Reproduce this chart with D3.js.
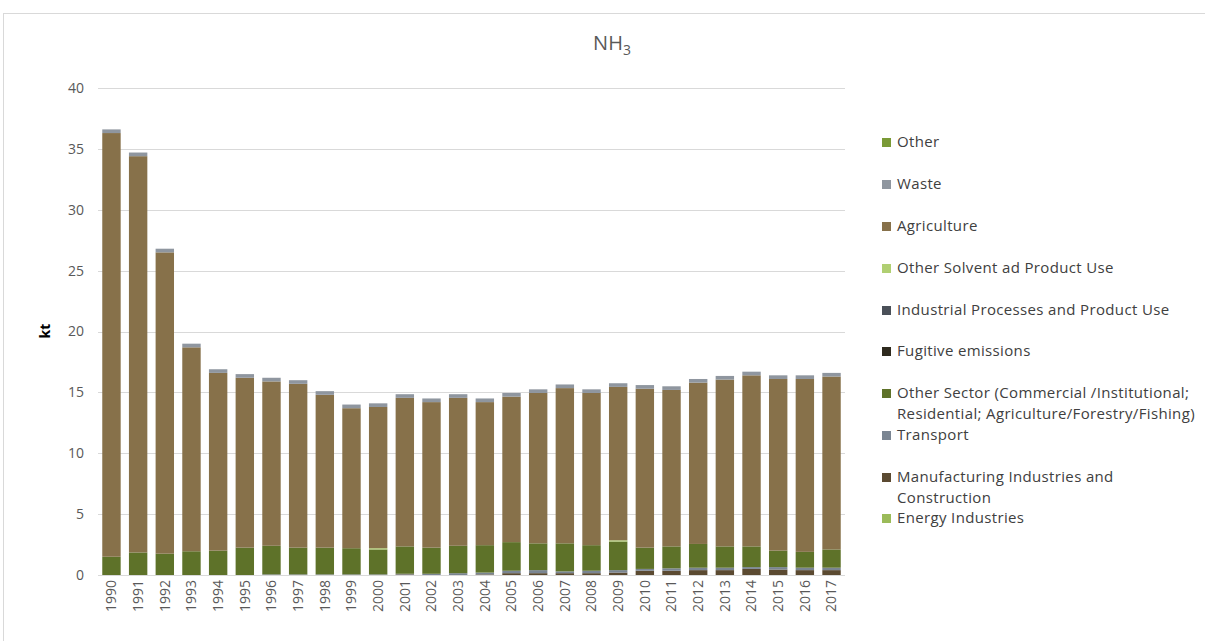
<!DOCTYPE html>
<html>
<head>
<meta charset="utf-8">
<script src="https://cdn.jsdelivr.net/npm/d3@7"></script>
<style>
  body { margin: 0; background: #fff; }
  svg { font-family: "Open Sans", sans-serif; }
</style>
</head>
<body>
<svg id="chart" width="1205" height="641"></svg>
<script>
// years on the x axis
let years = ["1990","1991","1992","1993","1994","1995","1996","1997","1998","1999",
             "2000","2001","2002","2003","2004","2005","2006","2007","2008","2009",
             "2010","2011","2012","2013","2014","2015","2016","2017"];

// sector values, kt
let energyIndustries = [0,0,0,0,0,0,0,0,0,0, 0,0,0,0,0,0,0,0,0,0, 0,0,0,0,0,0,0,0];
let manufacturing    = [0,0,0,0,0,0,0,0,0,0, 0,0.05,0,0,0.05,0.15,0.15,0.15,0.15,0.2, 0.35,0.35,0.4,0.4,0.5,0.45,0.4,0.4];
let transport        = [0,0,0,0,0,0,0.05,0.05,0.05,0.05, 0.05,0.05,0.1,0.15,0.15,0.2,0.25,0.15,0.2,0.2, 0.15,0.2,0.2,0.2,0.15,0.2,0.2,0.2];
let otherSector      = [1.5,1.85,1.75,1.95,2.0,2.25,2.35,2.2,2.2,2.15, 2.05,2.25,2.15,2.25,2.25,2.35,2.2,2.3,2.1,2.35, 1.75,1.8,1.95,1.75,1.7,1.35,1.3,1.5];
let fugitive         = [0,0,0,0,0,0,0,0,0,0, 0,0,0,0,0,0,0,0,0,0, 0,0,0,0,0,0,0,0];
let industrial       = [0,0,0,0,0,0,0,0,0,0, 0,0,0,0,0,0,0,0,0,0, 0,0,0,0,0,0,0,0];
let solvent          = [0,0,0,0,0,0,0,0,0,0, 0.1,0,0,0,0,0,0,0,0,0.1, 0,0,0,0,0,0,0,0];
let agriculture      = [34.8,32.55,24.75,16.75,14.6,13.95,13.5,13.45,12.55,11.5, 11.6,12.2,11.95,12.15,11.75,11.95,12.35,12.75,12.5,12.6, 13.05,12.85,13.25,13.7,14.05,14.1,14.2,14.2];
let waste            = [0.3,0.3,0.3,0.3,0.3,0.3,0.3,0.3,0.3,0.3, 0.3,0.3,0.3,0.3,0.3,0.3,0.3,0.3,0.3,0.3, 0.3,0.3,0.3,0.3,0.3,0.3,0.3,0.3];
let other            = [0,0,0,0,0,0,0,0,0,0, 0,0,0,0,0,0,0,0,0,0, 0,0,0,0,0,0,0,0];

let yTicks = [0,5,10,15,20,25,30,35,40];

// stack order, bottom to top
let series = [
  {key:"energy",   name:"Energy Industries", values:energyIndustries, color:"#9bbb59"},
  {key:"manu",     name:"Manufacturing Industries and|Construction", values:manufacturing, color:"#5b4a31"},
  {key:"transport",name:"Transport", values:transport, color:"#7a8592"},
  {key:"osector",  name:"Other Sector (Commercial /Institutional;|Residential; Agriculture/Forestry/Fishing)", values:otherSector, color:"#5e7229"},
  {key:"fugitive", name:"Fugitive emissions", values:fugitive, color:"#2e2a1e"},
  {key:"industry", name:"Industrial Processes and Product Use", values:industrial, color:"#4a5058"},
  {key:"solvent",  name:"Other Solvent ad Product Use", values:solvent, color:"#b0cf72"},
  {key:"agri",     name:"Agriculture", values:agriculture, color:"#87714a"},
  {key:"waste",    name:"Waste", values:waste, color:"#8f969f"},
  {key:"other",    name:"Other", values:other, color:"#7a9a36"}
];

let table = years.map(function(y, i){
  let row = {year: y};
  series.forEach(function(s){ row[s.key] = s.values[i]; });
  return row;
});

let svg = d3.select("#chart");

// outer frame
svg.append("rect")
  .attr("x", 3.5).attr("y", 13.5)
  .attr("width", 1210).attr("height", 640)
  .attr("fill", "none")
  .attr("stroke", "#d9d9d9");

let plotLeft = 98, plotRight = 845, plotTop = 88, plotBottom = 575;

let xScale = d3.scaleBand()
  .domain(years)
  .range([plotLeft, plotRight])
  .paddingInner(0.31)
  .paddingOuter(0.16);

let yScale = d3.scaleLinear()
  .domain([0, 40])
  .range([plotBottom, plotTop]);

// grid lines
svg.append("g")
  .selectAll("line")
  .data(yTicks.filter(d => d > 0))
  .enter()
  .append("line")
  .attr("x1", plotLeft).attr("x2", plotRight)
  .attr("y1", d => Math.round(yScale(d)) + 0.5)
  .attr("y2", d => Math.round(yScale(d)) + 0.5)
  .attr("stroke", "#d9d9d9")
  .attr("stroke-width", 1);

// y axis labels
let yAxis = d3.axisLeft(yScale).tickValues(yTicks).tickSize(0).tickPadding(14);
let yG = svg.append("g")
  .attr("transform", "translate(" + plotLeft + ",0)")
  .call(yAxis);
yG.select(".domain").remove();
yG.selectAll("text")
  .attr("fill", "#595959")
  .style("font-size", "14px")
  .style("font-family", "'Open Sans', sans-serif");

// stacked bars
let stack = d3.stack().keys(series.map(s => s.key));
let layers = stack(table);

svg.append("g")
  .selectAll("g")
  .data(layers)
  .enter()
  .append("g")
  .attr("fill", (d, i) => series[i].color)
  .selectAll("rect")
  .data(d => d)
  .enter()
  .append("rect")
  .attr("x", d => xScale(d.data.year))
  .attr("width", xScale.bandwidth())
  .attr("y", d => yScale(d[1]))
  .attr("height", d => Math.max(0, yScale(d[0]) - yScale(d[1])));

// x axis
let xAxis = d3.axisBottom(xScale).tickSize(0).tickPadding(0);
let xG = svg.append("g")
  .attr("transform", "translate(0," + plotBottom + ")")
  .call(xAxis);
xG.select(".domain")
  .attr("stroke", "#d9d9d9")
  .attr("d", "M" + plotLeft + ",0.5H" + plotRight);
xG.selectAll("text")
  .attr("fill", "#595959")
  .style("font-size", "14px")
  .style("font-family", "'Open Sans', sans-serif")
  .attr("transform", "rotate(-90)")
  .attr("text-anchor", "end")
  .attr("x", -5)
  .attr("y", 0)
  .attr("dy", "0.35em");

// y axis title
svg.append("text")
  .attr("transform", "translate(50," + 331 + ") rotate(-90)")
  .attr("text-anchor", "middle")
  .attr("font-weight", "bold")
  .attr("font-size", "14px")
  .attr("fill", "#000")
  .text("kt");

// chart title NH3
let title = svg.append("text")
  .attr("x", 612).attr("y", 50)
  .attr("text-anchor", "middle")
  .attr("fill", "#595959")
  .attr("font-size", "20px");
title.append("tspan").text("NH");
title.append("tspan").attr("font-size", "14px").attr("dy", "5").text("3");

// legend, top to bottom in reverse stack order
let legendY = [142, 184, 226, 268, 310, 351, 393, 435, 477, 518];
let legendItems = series.slice().reverse();
let legend = svg.append("g");
legendItems.forEach(function(s, i){
  let g = legend.append("g").attr("transform", "translate(882," + legendY[i] + ")");
  g.append("rect")
    .attr("x", 0).attr("y", -4)
    .attr("width", 9).attr("height", 9)
    .attr("fill", s.color);
  let t = g.append("text")
    .attr("x", 15).attr("y", 0)
    .attr("fill", "#404040")
    .attr("font-size", "15px")
    .attr("letter-spacing", "0.35px");
  s.name.split("|").forEach(function(line, j){
    t.append("tspan").attr("x", 15).attr("dy", j == 0 ? "0.35em" : "21px").text(line);
  });
});
</script>
</body>
</html>
